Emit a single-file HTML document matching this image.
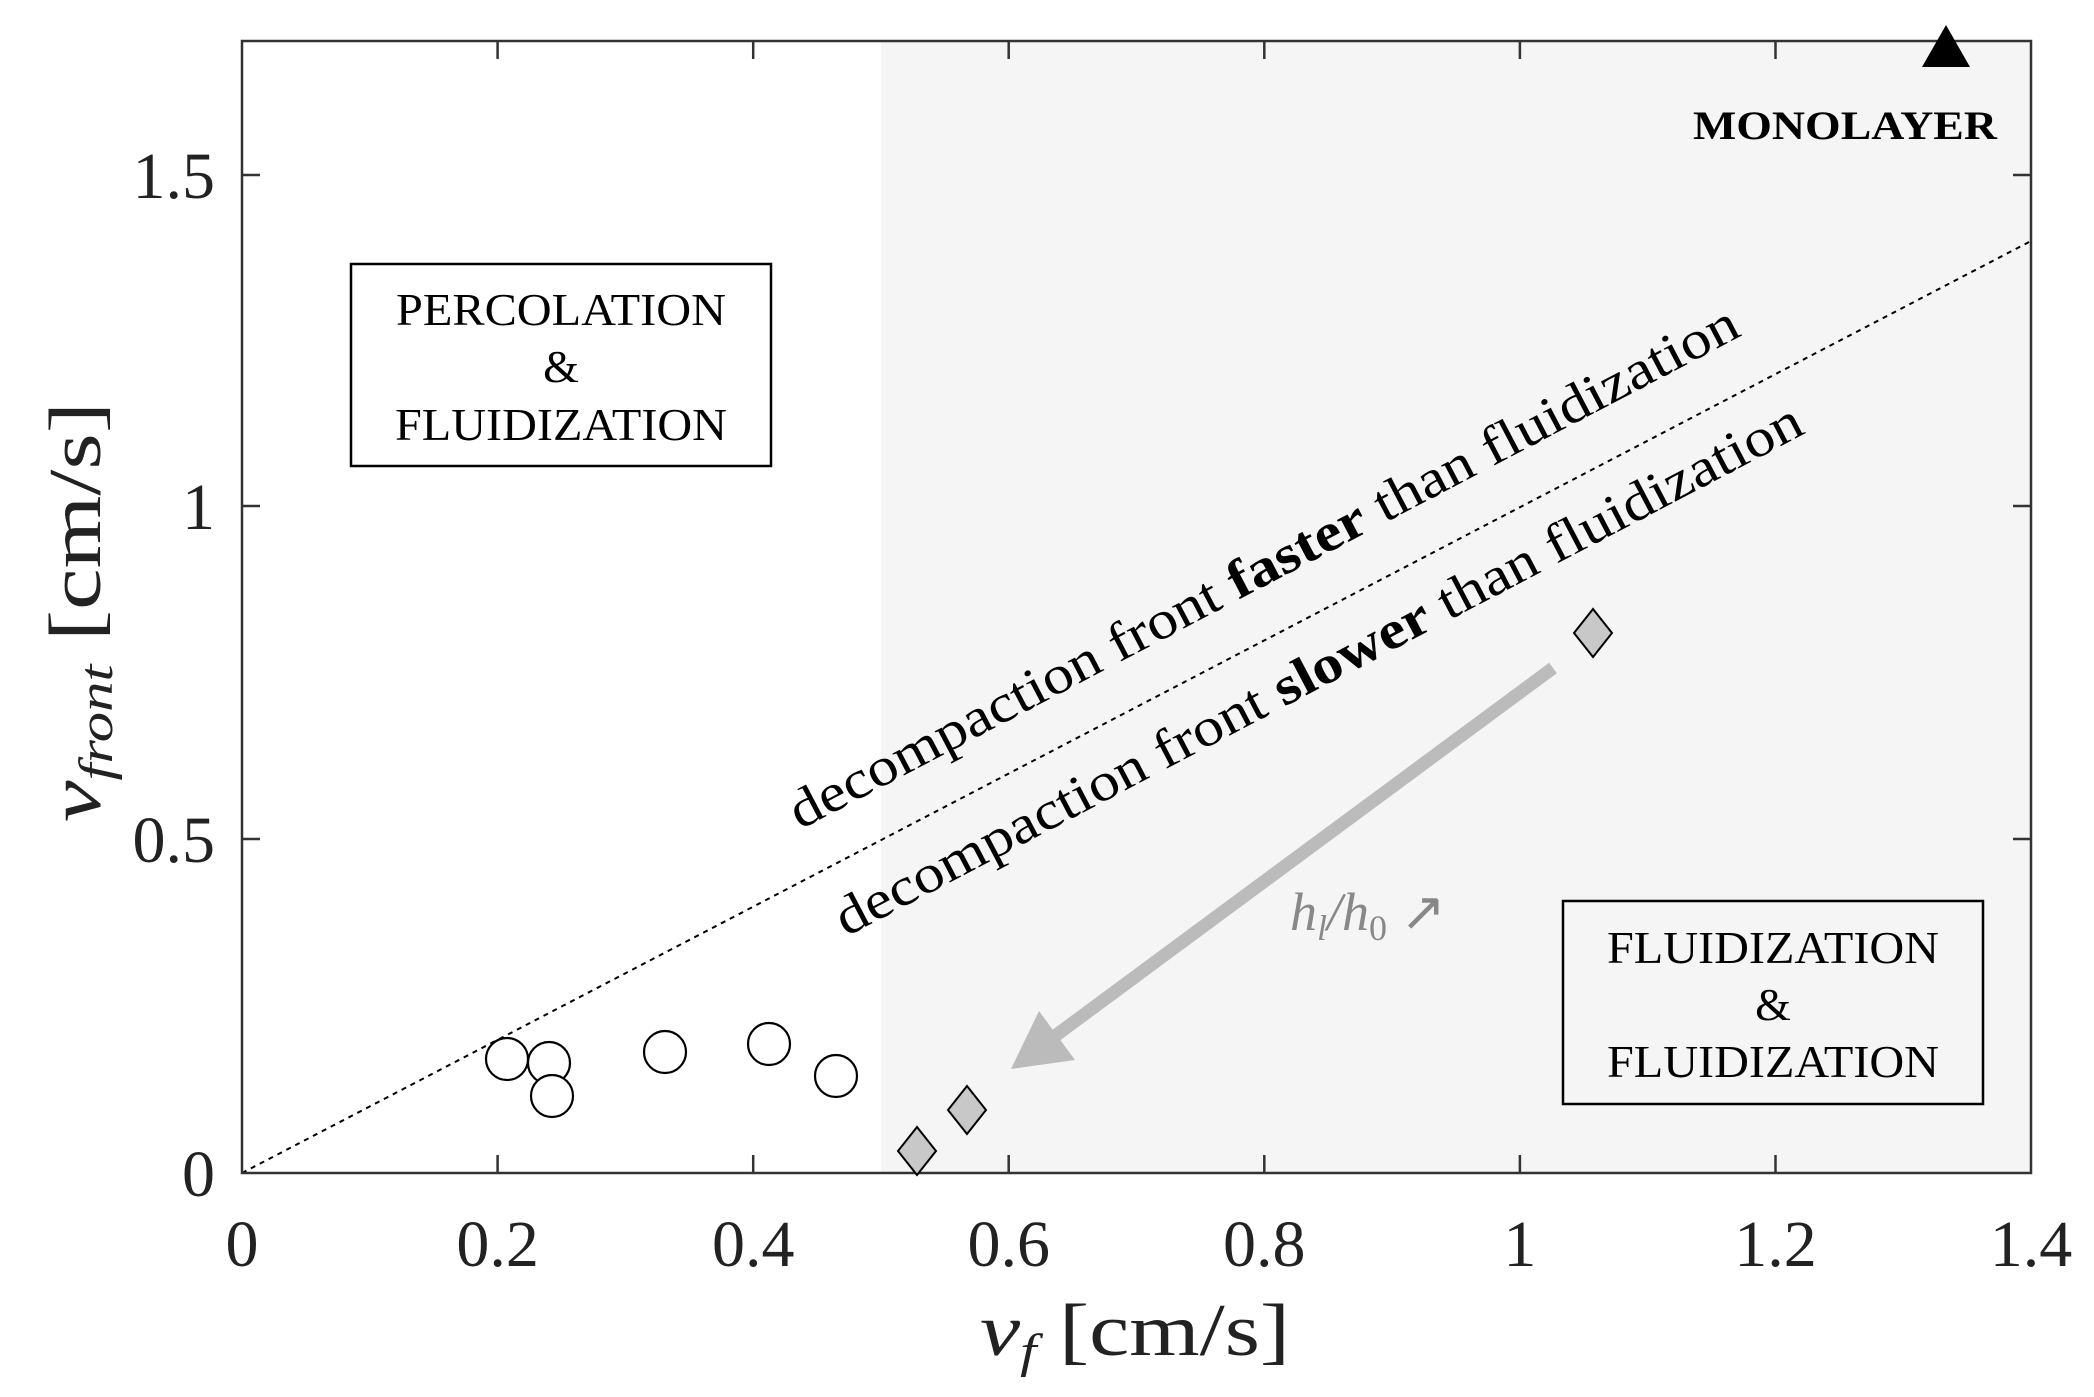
<!DOCTYPE html>
<html><head><meta charset="utf-8"><style>html,body{margin:0;padding:0;background:#fff}svg{display:block}</style></head>
<body>
<svg width="2094" height="1397" viewBox="0 0 2094 1397" xmlns="http://www.w3.org/2000/svg" font-family="'Liberation Serif', serif">
<rect x="0" y="0" width="2094" height="1397" fill="#fff"/>
<rect x="881" y="41" width="1150" height="1132" fill="#f5f5f5"/>
<line x1="242" y1="1173" x2="2031" y2="241" stroke="#000" stroke-width="2" stroke-dasharray="5,5"/>
<rect x="242" y="41" width="1789" height="1132" fill="none" stroke="#333" stroke-width="2.5"/>
<g stroke="#333" stroke-width="2.5">
<line x1="497.6" y1="1173" x2="497.6" y2="1155"/><line x1="753.2" y1="1173" x2="753.2" y2="1155"/><line x1="1008.7" y1="1173" x2="1008.7" y2="1155"/><line x1="1264.3" y1="1173" x2="1264.3" y2="1155"/><line x1="1519.9" y1="1173" x2="1519.9" y2="1155"/><line x1="1775.5" y1="1173" x2="1775.5" y2="1155"/>
<line x1="497.6" y1="41" x2="497.6" y2="59"/><line x1="753.2" y1="41" x2="753.2" y2="59"/><line x1="1008.7" y1="41" x2="1008.7" y2="59"/><line x1="1264.3" y1="41" x2="1264.3" y2="59"/><line x1="1519.9" y1="41" x2="1519.9" y2="59"/><line x1="1775.5" y1="41" x2="1775.5" y2="59"/>
<line x1="242" y1="839" x2="260" y2="839"/><line x1="242" y1="506" x2="260" y2="506"/><line x1="242" y1="175" x2="260" y2="175"/>
<line x1="2031" y1="839" x2="2013" y2="839"/><line x1="2031" y1="506" x2="2013" y2="506"/><line x1="2031" y1="175" x2="2013" y2="175"/>
</g>
<g font-size="66" fill="#222" text-anchor="middle">
<text x="242" y="1266">0</text><text x="497.6" y="1266">0.2</text><text x="753.2" y="1266">0.4</text><text x="1008.7" y="1266">0.6</text><text x="1264.3" y="1266">0.8</text><text x="1519.9" y="1266">1</text><text x="1775.5" y="1266">1.2</text><text x="2031" y="1266">1.4</text>
</g>
<g font-size="66" fill="#222" text-anchor="end">
<text x="215" y="1196">0</text><text x="215" y="862">0.5</text><text x="215" y="529">1</text><text x="215" y="198">1.5</text>
</g>
<text x="980" y="1355" font-size="74" fill="#222" textLength="310" lengthAdjust="spacingAndGlyphs"><tspan font-style="italic">v</tspan><tspan font-style="italic" font-size="48" dy="12">f</tspan><tspan dy="-12">   [cm/s]</tspan></text>
<text transform="translate(100,822) rotate(-90)" font-size="74" fill="#222" textLength="420" lengthAdjust="spacingAndGlyphs"><tspan font-style="italic">v</tspan><tspan font-style="italic" font-size="48" dy="12">front</tspan><tspan dy="-12">   [cm/s]</tspan></text>
<rect x="351" y="264" width="420" height="202" fill="#fff" stroke="#000" stroke-width="2.5"/>
<g font-size="46" text-anchor="middle" fill="#000">
<text x="561" y="325" textLength="330" lengthAdjust="spacingAndGlyphs">PERCOLATION</text><text x="561" y="382">&amp;</text><text x="561" y="440" textLength="332" lengthAdjust="spacingAndGlyphs">FLUIDIZATION</text>
</g>
<rect x="1563" y="901" width="420" height="203" fill="#f5f5f5" stroke="#000" stroke-width="2.5"/>
<g font-size="46" text-anchor="middle" fill="#000">
<text x="1773" y="963" textLength="332" lengthAdjust="spacingAndGlyphs">FLUIDIZATION</text><text x="1773" y="1020">&amp;</text><text x="1773" y="1077" textLength="332" lengthAdjust="spacingAndGlyphs">FLUIDIZATION</text>
</g>
<polygon points="1946,25 1922,67 1970,67" fill="#000"/>
<text x="1845" y="139" font-size="40" font-weight="bold" text-anchor="middle" textLength="304" lengthAdjust="spacingAndGlyphs">MONOLAYER</text>
<text transform="translate(800,830) rotate(-27.7)" font-size="54" fill="#000" textLength="1065" lengthAdjust="spacingAndGlyphs">decompaction front <tspan font-weight="bold">faster</tspan> than fluidization</text>
<text transform="translate(846,937) rotate(-27.7)" font-size="54" fill="#000" textLength="1085" lengthAdjust="spacingAndGlyphs">decompaction front <tspan font-weight="bold">slower</tspan> than fluidization</text>
<line x1="1553" y1="668" x2="1055" y2="1036" stroke="#bbb" stroke-width="13"/>
<polygon points="1011,1069 1039,1011 1075,1060" fill="#bbb"/>
<text x="1290" y="930" font-size="54" font-style="italic" fill="#888">h<tspan font-size="36" dy="10">l</tspan><tspan dy="-10">/h</tspan><tspan font-size="36" dy="10" font-style="normal">0</tspan><tspan dy="-10" font-style="normal"> ↗</tspan></text>
<g fill="#fff" stroke="#000" stroke-width="2.2">
<circle cx="507" cy="1059" r="21"/><circle cx="549" cy="1063" r="21"/><circle cx="552" cy="1096" r="21"/><circle cx="665" cy="1052" r="21"/><circle cx="769" cy="1044" r="21"/><circle cx="836" cy="1076" r="21"/>
</g>
<g fill="#c8c8c8" stroke="#000" stroke-width="2">
<polygon points="917,1127 936,1151 917,1175 898,1151"/>
<polygon points="967,1086 986,1110 967,1134 948,1110"/>
<polygon points="1593,609 1612,633 1593,657 1574,633"/>
</g>
</svg>
</body></html>
